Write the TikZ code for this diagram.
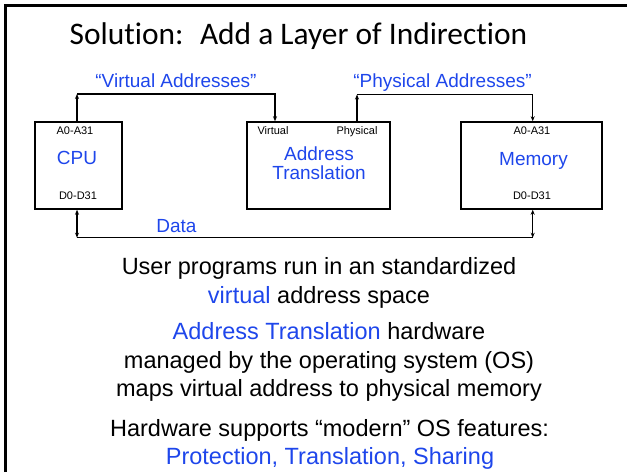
\documentclass[tikz,border=0pt]{standalone}
\usepackage{fontspec}
\setmainfont{Liberation Sans}
\newfontfamily\titlefont[Ligatures={NoCommon}]{Carlito}
\usetikzlibrary{arrows.meta}
\definecolor{slideblue}{RGB}{30,70,235}
\tikzset{
  unit box/.style={
    draw,
    line width=1.5pt,
    minimum width=87pt,
    minimum height=87pt,
    inner sep=0pt
  },
  bus/.style={
    line width=1.5pt
  },
  bus arrow/.style={
    -{Stealth[length=5pt, width=4pt]},
    line width=1.5pt
  },
  bus both/.style={
    {Stealth[length=5pt, width=4pt]}-{Stealth[length=5pt, width=4pt]},
    line width=1.5pt
  },
  big label/.style={
    font=\fontsize{19}{22}\selectfont,
    text=slideblue,
    anchor=base,
    inner sep=0pt
  },
  pin label/.style={
    font=\fontsize{11}{13}\selectfont,
    anchor=base,
    inner sep=0pt
  },
  body line/.style={
    font=\fontsize{23.5}{28}\selectfont,
    anchor=base,
    inner sep=0pt
  }
}

\begin{document}
\begin{tikzpicture}[x=1pt, y=-1pt]
    \useasboundingbox (0,0) rectangle (627,472);

    % Rahmen der Folie (links und oben)
    \draw[line width=3pt] (5,472) -- (5,5) -- (627,5);

    % Titel
    \node[anchor=base, inner sep=0pt, font=\titlefont\fontsize{31.4}{36}\selectfont] (title) at (298.5,44) {Solution:~ Add a Layer of Indirection};

    % Bausteine
    \node[unit box] (cpu) at (78.5,165.5) {};
    \node[unit box, minimum width=143pt] (xlate) at (318.5,165.5) {};
    \node[unit box, minimum width=141pt] (mem) at (531.5,165.5) {};

    % CPU
    \node[pin label] (cpuA) at (75,134.6) {A0-A31};
    \node[big label] (cpuname) at (77,164) {CPU};
    \node[pin label] (cpuD) at (78,199) {D0-D31};

    % Adressumsetzung
    \node[pin label] (xlateV) at (273,134.6) {Virtual};
    \node[pin label] (xlateP) at (357,134.6) {Physical};
    \node[big label] (xlatename1) at (319,160) {Address};
    \node[big label] (xlatename2) at (319,179.5) {Translation};

    % Speicher
    \node[pin label] (memA) at (532,134.6) {A0-A31};
    \node[big label] (memname) at (533.5,165) {Memory};
    \node[pin label] (memD) at (532,199) {D0-D31};

    % Leitungen
    \coordinate (vbend) at (77,94);
    \coordinate (pbend) at (357,94.5);
    \coordinate (dleft) at (77,237.7);
    \coordinate (dright) at (532.7,237.7);

    \draw[bus arrow] (cpu.north -| vbend) -- (vbend);
    \draw[bus arrow] (vbend) -| ([xshift=-43.5pt]xlate.north);
    \draw[bus arrow] (xlate.north -| pbend) -- (pbend);
    \draw[bus arrow] (pbend) -| ([xshift=1.2pt]mem.north);
    \draw[bus both] (cpu.south -| dleft) -- (dleft);
    \draw[bus both] (mem.south -| dright) -- (dright);
    \draw[bus] (dleft) -- (dright);

    \node[big label] (vlabel) at (176,87.5) {``Virtual Addresses''};
    \node[big label] (plabel) at (442.5,87) {``Physical Addresses''};
    \node[big label] (dlabel) at (176.5,232.5) {Data};

    % Text unter dem Bild
    \node[body line] (line1) at (319,274.7) {User programs run in an standardized};
    \node[body line] (line2) at (319,303) {\textcolor{slideblue}{virtual} address space};
    \node[body line] (line3) at (329,339.7) {\textcolor{slideblue}{Address Translation} hardware};
    \node[body line] (line4) at (329,368) {managed by the operating system (OS)};
    \node[body line] (line5) at (329,396) {maps virtual address to physical memory};
    \node[body line] (line6) at (329.5,436) {Hardware supports ``modern'' OS features:};
    \node[body line, text=slideblue] (line7) at (330,464.7) {Protection, Translation, Sharing};

\end{tikzpicture}
\end{document}
